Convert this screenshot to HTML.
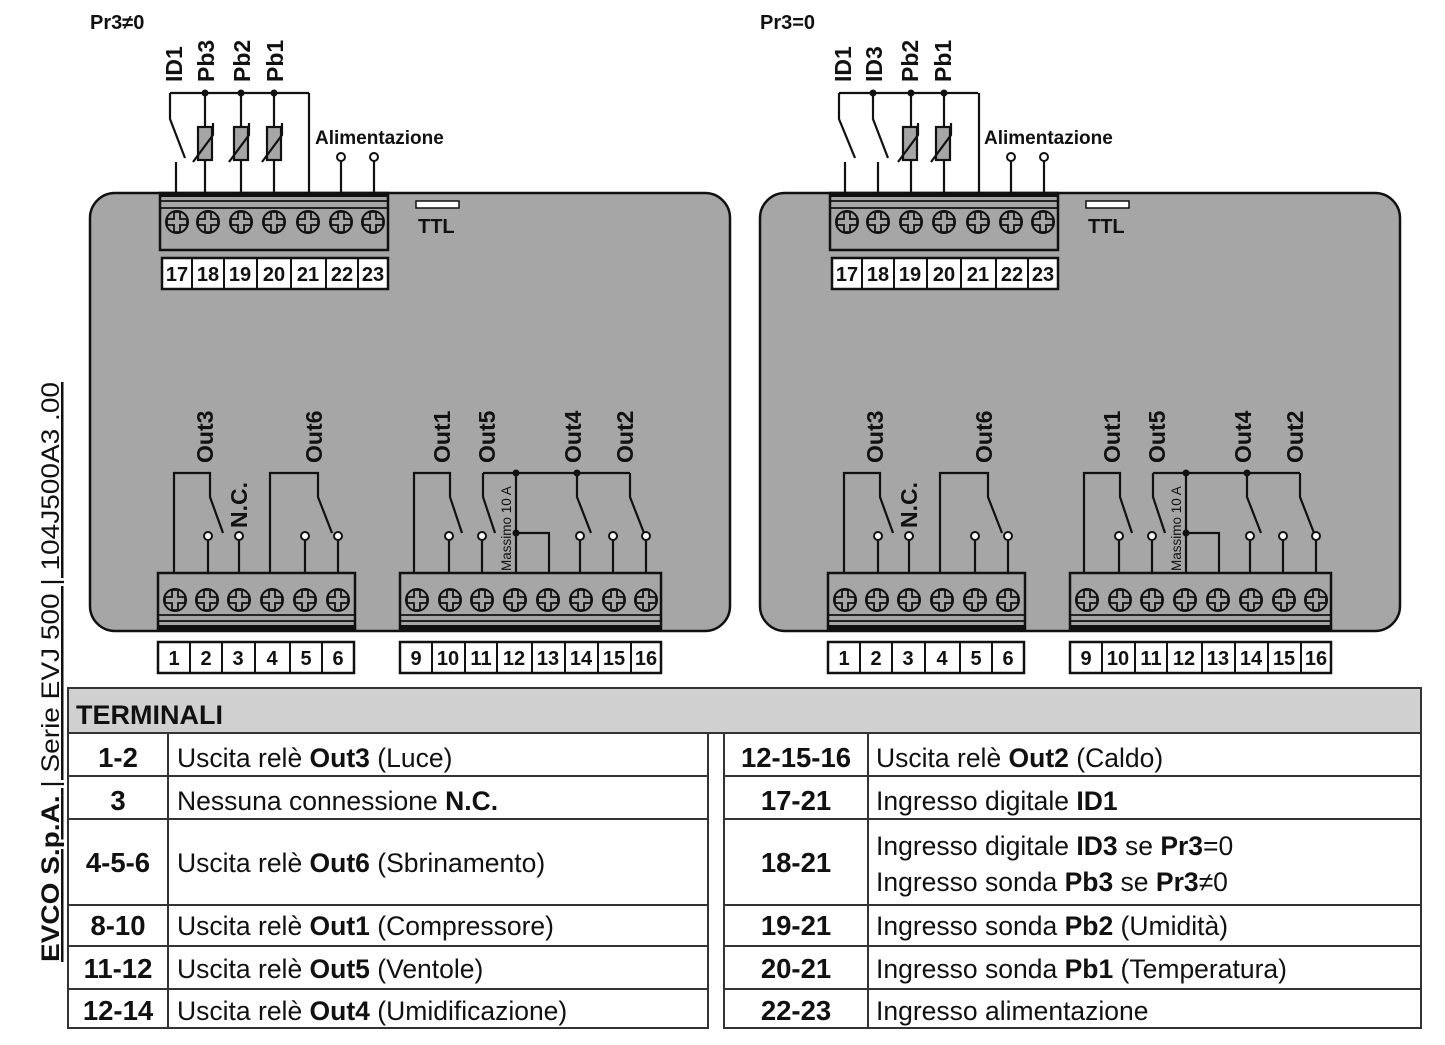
<!DOCTYPE html>
<html><head><meta charset="utf-8"><style>
html,body{margin:0;padding:0;background:#fff;}
svg{display:block;}
text{font-family:"Liberation Sans",sans-serif;fill:#111;}
.b{font-weight:bold;}
.lbl{font-weight:bold;font-size:23px;}
.num{font-weight:bold;font-size:20px;text-anchor:middle;}
.tc{font-size:26.5px;}
.tk{font-size:27.5px;font-weight:bold;text-anchor:middle;}
</style></head><body>
<svg width="1445" height="1045" viewBox="0 0 1445 1045" xmlns="http://www.w3.org/2000/svg">
<defs>
<g id="sc">
<circle r="11" fill="#a6a6a6" stroke="#111" stroke-width="2"/>
<polygon points="-3,-10 3,-10 3,-3 10,-3 10,3 3,3 3,10 -3,10 -3,3 -10,3 -10,-3 -3,-3" fill="none" stroke="#111" stroke-width="1.8"/>
</g>
<g id="res">
<rect x="-7" y="0" width="14" height="33" fill="#a6a6a6" stroke="#111" stroke-width="2.2"/>
<polyline points="-12,35 8,8 8,-4" fill="none" stroke="#111" stroke-width="2.2"/>
</g>
<g id="panel" stroke="#111" fill="none" stroke-width="2.5">
<rect x="90" y="193" width="640" height="438" rx="25" fill="#a6a6a6"/>
<rect x="160" y="193" width="228" height="57" fill="#a6a6a6"/>
<line x1="160" y1="195" x2="388" y2="195" stroke-width="4"/>
<line x1="160" y1="201" x2="388" y2="201" stroke-width="1.8"/>
<line x1="160" y1="208" x2="388" y2="208" stroke-width="1.8"/>
<rect x="162" y="258" width="226" height="31" fill="#fff"/>
<path d="M192 258V289M224 258V289M257 258V289M291 258V289M326 258V289M358 258V289" stroke-width="2"/>
<rect x="416" y="201" width="43" height="7" fill="#fff" stroke-width="1.5"/>
<rect x="158" y="573" width="197" height="57" fill="#a6a6a6"/>
<line x1="158" y1="615" x2="355" y2="615" stroke-width="1.8"/>
<line x1="158" y1="621" x2="355" y2="621" stroke-width="1.8"/>
<line x1="158" y1="627" x2="355" y2="627" stroke-width="4"/>
<rect x="158" y="642" width="196" height="31" fill="#fff"/>
<path d="M190 642V673M222 642V673M255 642V673M290 642V673M322 642V673" stroke-width="2"/>
<rect x="400" y="573" width="261" height="57" fill="#a6a6a6"/>
<line x1="400" y1="615" x2="661" y2="615" stroke-width="1.8"/>
<line x1="400" y1="621" x2="661" y2="621" stroke-width="1.8"/>
<line x1="400" y1="627" x2="661" y2="627" stroke-width="4"/>
<rect x="400" y="642" width="261" height="31" fill="#fff"/>
<path d="M432 642V673M465 642V673M497 642V673M532 642V673M565 642V673M598 642V673M631 642V673" stroke-width="2"/>
<g stroke-width="2.2">
<path d="M174 573V473H210V497L223 533"/>
<path d="M208 540V573M239 540V573"/>
<path d="M270 573V473H318V497L332 533"/>
<path d="M305 540V573M338 540V573"/>
<path d="M414 573V473H450V497L462 533"/>
<path d="M449 540V573"/>
<path d="M483 473H630M483 473V497L495 533"/>
<path d="M482 540V573"/>
<path d="M516 473V573M516 533H549V573"/>
<path d="M577 473V497L591 533M580 540V573M613 540V573"/>
<path d="M630 473V497L644 533M646 540V573"/>
</g>
<g fill="#fff" stroke-width="2">
<circle cx="208" cy="536" r="4"/><circle cx="239" cy="536" r="4"/>
<circle cx="305" cy="536" r="4"/><circle cx="338" cy="536" r="4"/>
<circle cx="449" cy="536" r="4"/><circle cx="482" cy="536" r="4"/>
<circle cx="580" cy="536" r="4"/><circle cx="613" cy="536" r="4"/>
<circle cx="646" cy="536" r="4"/>
</g>
<g fill="#111" stroke="none">
<circle cx="516" cy="473" r="3.5"/><circle cx="516" cy="533" r="3.5"/><circle cx="577" cy="473" r="3.5"/>
</g>
<g stroke-width="2.2">
<path d="M241 93V193M274 93V193M309 93V193"/>
<path d="M341 161V193M374 161V193"/>
</g>
<circle cx="341" cy="157" r="4" fill="#fff" stroke-width="2"/>
<circle cx="374" cy="157" r="4" fill="#fff" stroke-width="2"/>
<g fill="#111" stroke="none">
<circle cx="241" cy="93" r="3.5"/><circle cx="274" cy="93" r="3.5"/>
</g>
</g>
</defs>

<use href="#panel"/>
<use href="#panel" transform="translate(670,0)"/>

<g>
<use href="#sc" x="177" y="222"/><use href="#sc" x="208" y="222"/><use href="#sc" x="241" y="222"/><use href="#sc" x="274" y="222"/><use href="#sc" x="308" y="222"/><use href="#sc" x="341" y="222"/><use href="#sc" x="373" y="222"/>
<use href="#sc" x="175" y="600"/><use href="#sc" x="207" y="600"/><use href="#sc" x="239" y="600"/><use href="#sc" x="272" y="600"/><use href="#sc" x="305" y="600"/><use href="#sc" x="338" y="600"/>
<use href="#sc" x="417" y="600"/><use href="#sc" x="450" y="600"/><use href="#sc" x="482" y="600"/><use href="#sc" x="515" y="600"/><use href="#sc" x="548" y="600"/><use href="#sc" x="581" y="600"/><use href="#sc" x="614" y="600"/><use href="#sc" x="646" y="600"/>
</g>
<g transform="translate(670,0)">
<use href="#sc" x="177" y="222"/><use href="#sc" x="208" y="222"/><use href="#sc" x="241" y="222"/><use href="#sc" x="274" y="222"/><use href="#sc" x="308" y="222"/><use href="#sc" x="341" y="222"/><use href="#sc" x="373" y="222"/>
<use href="#sc" x="175" y="600"/><use href="#sc" x="207" y="600"/><use href="#sc" x="239" y="600"/><use href="#sc" x="272" y="600"/><use href="#sc" x="305" y="600"/><use href="#sc" x="338" y="600"/>
<use href="#sc" x="417" y="600"/><use href="#sc" x="450" y="600"/><use href="#sc" x="482" y="600"/><use href="#sc" x="515" y="600"/><use href="#sc" x="548" y="600"/><use href="#sc" x="581" y="600"/><use href="#sc" x="614" y="600"/><use href="#sc" x="646" y="600"/>
</g>

<g stroke="#111" fill="none" stroke-width="2.2">
<path d="M170 93H309M170 93V119L185 158M176 162V193M205 93V193"/>
</g>
<circle cx="205" cy="93" r="3.5" fill="#111"/>
<use href="#res" x="205" y="127"/><use href="#res" x="241" y="127"/><use href="#res" x="274" y="127"/>
<g stroke="#111" fill="none" stroke-width="2.2">
<path d="M839 93H978M839 93V119L855 158M845 162V193"/>
<path d="M873 93V119L888 158M878 162V193"/>
</g>
<circle cx="873" cy="93" r="3.5" fill="#111"/>
<use href="#res" x="910" y="127"/><use href="#res" x="943" y="127"/>

<text x="90" y="29" class="b" font-size="20">Pr3≠0</text>
<text class="lbl" transform="translate(182,82) rotate(-90)">ID1</text>
<text class="lbl" transform="translate(214,82) rotate(-90)">Pb3</text>
<text class="lbl" transform="translate(250,82) rotate(-90)">Pb2</text>
<text class="lbl" transform="translate(283,82) rotate(-90)">Pb1</text>
<text x="315" y="144" class="b" font-size="19">Alimentazione</text>
<text x="418" y="233" class="b" font-size="20">TTL</text>
<text x="760" y="29" class="b" font-size="20">Pr3=0</text>
<text class="lbl" transform="translate(851,82) rotate(-90)">ID1</text>
<text class="lbl" transform="translate(882,82) rotate(-90)">ID3</text>
<text class="lbl" transform="translate(918,82) rotate(-90)">Pb2</text>
<text class="lbl" transform="translate(951,82) rotate(-90)">Pb1</text>
<text x="984" y="144" class="b" font-size="19">Alimentazione</text>
<text x="1088" y="233" class="b" font-size="20">TTL</text>

<g>
<text x="177" y="281" class="num">17</text><text x="208" y="281" class="num">18</text><text x="240" y="281" class="num">19</text><text x="274" y="281" class="num">20</text><text x="308" y="281" class="num">21</text><text x="342" y="281" class="num">22</text><text x="373" y="281" class="num">23</text>
<text x="174" y="665" class="num">1</text><text x="206" y="665" class="num">2</text><text x="238" y="665" class="num">3</text><text x="272" y="665" class="num">4</text><text x="306" y="665" class="num">5</text><text x="338" y="665" class="num">6</text>
<text x="416" y="665" class="num">9</text><text x="448" y="665" class="num">10</text><text x="481" y="665" class="num">11</text><text x="514" y="665" class="num">12</text><text x="548" y="665" class="num">13</text><text x="581" y="665" class="num">14</text><text x="614" y="665" class="num">15</text><text x="646" y="665" class="num">16</text>
</g>
<g transform="translate(670,0)">
<text x="177" y="281" class="num">17</text><text x="208" y="281" class="num">18</text><text x="240" y="281" class="num">19</text><text x="274" y="281" class="num">20</text><text x="308" y="281" class="num">21</text><text x="342" y="281" class="num">22</text><text x="373" y="281" class="num">23</text>
<text x="174" y="665" class="num">1</text><text x="206" y="665" class="num">2</text><text x="238" y="665" class="num">3</text><text x="272" y="665" class="num">4</text><text x="306" y="665" class="num">5</text><text x="338" y="665" class="num">6</text>
<text x="416" y="665" class="num">9</text><text x="448" y="665" class="num">10</text><text x="481" y="665" class="num">11</text><text x="514" y="665" class="num">12</text><text x="548" y="665" class="num">13</text><text x="581" y="665" class="num">14</text><text x="614" y="665" class="num">15</text><text x="646" y="665" class="num">16</text>
</g>

<g>
<text class="lbl" transform="translate(213,463) rotate(-90)">Out3</text>
<text class="lbl" transform="translate(247,528) rotate(-90)">N.C.</text>
<text class="lbl" transform="translate(322,463) rotate(-90)">Out6</text>
<text class="lbl" transform="translate(450,463) rotate(-90)">Out1</text>
<text class="lbl" transform="translate(495,463) rotate(-90)">Out5</text>
<text class="lbl" transform="translate(581,463) rotate(-90)">Out4</text>
<text class="lbl" transform="translate(633,463) rotate(-90)">Out2</text>
<text font-size="13.5" transform="translate(511,571) rotate(-90)">Massimo 10 A</text>
</g>
<g transform="translate(670,0)">
<text class="lbl" transform="translate(213,463) rotate(-90)">Out3</text>
<text class="lbl" transform="translate(247,528) rotate(-90)">N.C.</text>
<text class="lbl" transform="translate(322,463) rotate(-90)">Out6</text>
<text class="lbl" transform="translate(450,463) rotate(-90)">Out1</text>
<text class="lbl" transform="translate(495,463) rotate(-90)">Out5</text>
<text class="lbl" transform="translate(581,463) rotate(-90)">Out4</text>
<text class="lbl" transform="translate(633,463) rotate(-90)">Out2</text>
<text font-size="13.5" transform="translate(511,571) rotate(-90)">Massimo 10 A</text>
</g>

<text transform="translate(59,962) rotate(-90)" font-size="25" textLength="580" lengthAdjust="spacingAndGlyphs" text-decoration="underline"><tspan font-weight="bold">EVCO S.p.A.</tspan> | Serie EVJ 500 | 104J500A3 .00</text>

<g stroke="#333" stroke-width="2" fill="none">
<rect x="68" y="688" width="1353" height="45" fill="#d0d0d0"/>
<rect x="68" y="733" width="640" height="295" fill="#fff"/>
<rect x="724" y="733" width="697" height="295" fill="#fff"/>
<path d="M168 733V1028M868 733V1028"/>
<path d="M68 776H708M68 819H708M68 905H708M68 946H708M68 989H708"/>
<path d="M724 776H1421M724 819H1421M724 905H1421M724 946H1421M724 989H1421"/>
</g>
<text x="76" y="724" class="b" font-size="27">TERMINALI</text>
<text x="118" y="767" class="tk">1-2</text>
<text x="118" y="810" class="tk">3</text>
<text x="118" y="872" class="tk">4-5-6</text>
<text x="118" y="935" class="tk">8-10</text>
<text x="118" y="978" class="tk">11-12</text>
<text x="118" y="1020" class="tk">12-14</text>
<text x="177" y="767" class="tc">Uscita relè <tspan class="b">Out3</tspan> (Luce)</text>
<text x="177" y="810" class="tc">Nessuna connessione <tspan class="b">N.C.</tspan></text>
<text x="177" y="872" class="tc">Uscita relè <tspan class="b">Out6</tspan> (Sbrinamento)</text>
<text x="177" y="935" class="tc">Uscita relè <tspan class="b">Out1</tspan> (Compressore)</text>
<text x="177" y="978" class="tc">Uscita relè <tspan class="b">Out5</tspan> (Ventole)</text>
<text x="177" y="1020" class="tc">Uscita relè <tspan class="b">Out4</tspan> (Umidificazione)</text>
<text x="796" y="767" class="tk">12-15-16</text>
<text x="796" y="810" class="tk">17-21</text>
<text x="796" y="872" class="tk">18-21</text>
<text x="796" y="935" class="tk">19-21</text>
<text x="796" y="978" class="tk">20-21</text>
<text x="796" y="1020" class="tk">22-23</text>
<text x="876" y="767" class="tc">Uscita relè <tspan class="b">Out2</tspan> (Caldo)</text>
<text x="876" y="810" class="tc">Ingresso digitale <tspan class="b">ID1</tspan></text>
<text x="876" y="855" class="tc">Ingresso digitale <tspan class="b">ID3</tspan> se <tspan class="b">Pr3</tspan>=0</text>
<text x="876" y="891" class="tc">Ingresso sonda <tspan class="b">Pb3</tspan> se <tspan class="b">Pr3</tspan>≠0</text>
<text x="876" y="935" class="tc">Ingresso sonda <tspan class="b">Pb2</tspan> (Umidità)</text>
<text x="876" y="978" class="tc">Ingresso sonda <tspan class="b">Pb1</tspan> (Temperatura)</text>
<text x="876" y="1020" class="tc">Ingresso alimentazione</text>
</svg>
</body></html>
